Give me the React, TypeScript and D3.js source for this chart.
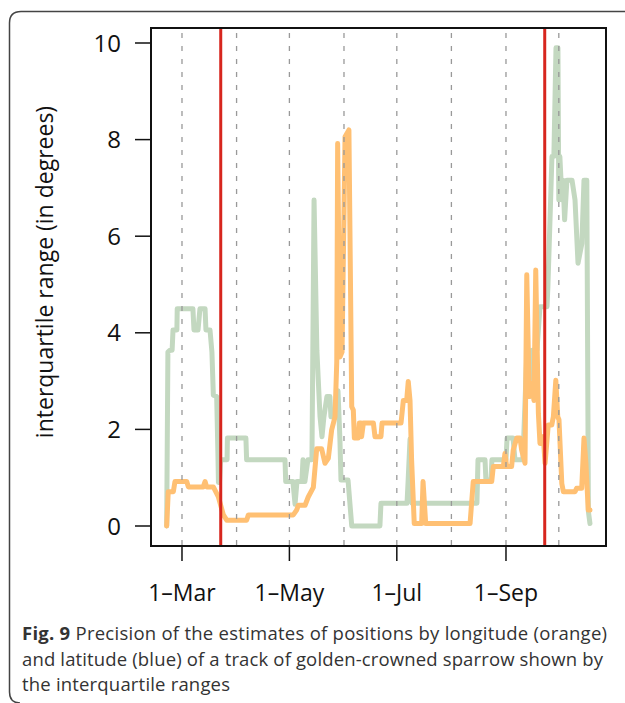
import React from 'react';
import * as d3 from 'd3';

const W = 625;
const H = 703;
const box = { left: 151, right: 606, top: 28, bottom: 546 };

// days after 1 March, interquartile range
const latDays = [-8.7, -8, -6.8, -5.6, -5.1, -2.9, -2.7, 6.2, 6.8, 9.1, 10.2, 13.1, 13.6, 15.9, 17, 17.8, 19.7, 20.4, 20.7, 21.3, 21.9, 25.6, 25.8, 36.3, 36.7, 58.5, 58.9, 63, 64.2, 65.3, 68.1, 68.7, 69.8, 71.5, 73.8, 75, 76.6, 78.4, 79.5, 80.6, 82.3, 84, 84.6, 87.5, 88.6, 89.7, 90.3, 94.3, 96.4, 112.4, 113, 127.8, 128.4, 129.5, 130.6, 167.5, 168.1, 172.1, 172.6, 175.5, 176, 184, 184.6, 188, 189.1, 193.6, 195.9, 197.6, 198.8, 201.6, 203.3, 207.3, 207.8, 209, 210.1, 211.2, 212.4, 213.5, 214, 214.6, 215.8, 216.4, 217.3, 218.6, 221.5, 223.2, 224.9, 227.1, 228.3, 229.9, 230.8, 231.7];
const latIQR = [0, 3.6, 3.64, 3.64, 4.06, 4.06, 4.5, 4.5, 4.06, 4.06, 4.5, 4.5, 4.06, 4.06, 3.6, 2.71, 2.68, 1.5, 0.9, 0.9, 1.37, 1.37, 1.82, 1.82, 1.37, 1.37, 0.92, 0.92, 0.45, 0.92, 0.92, 1.37, 0.92, 1.37, 1.37, 6.75, 3.64, 2.26, 1.85, 2.26, 2.68, 2.68, 2.26, 2.26, 2.8, 1.78, 0.95, 0.95, 0, 0, 0.47, 0.47, 0.92, 1.8, 0.47, 0.47, 1.37, 1.37, 0.95, 0.95, 1.37, 1.37, 1.82, 1.82, 1.37, 1.37, 3.64, 2.68, 3.64, 3.64, 4.54, 4.54, 4.95, 6.34, 7.65, 7.65, 9.9, 9.9, 6.75, 7.65, 6.75, 7.16, 6.34, 7.16, 7.16, 6.75, 5.44, 5.85, 7.16, 7.16, 0.3, 0.05];

const lonDays = [-8.7, -7.8, -4.9, -4, 2.7, 3.6, 12.1, 13.1, 14, 17.8, 20.6, 23.5, 25.4, 36.7, 37.7, 63.2, 65.1, 66.1, 69.9, 71.7, 74.6, 76.5, 79.3, 81.2, 83.1, 85, 86.9, 87.9, 88.4, 89.7, 90.9, 92.6, 94.8, 96.4, 97.3, 97.9, 100.1, 100.7, 101.7, 102, 103, 108.7, 109.6, 113, 113.6, 124.4, 125.7, 127.6, 128.5, 129.5, 130.4, 131.9, 136.1, 136.9, 138.4, 163.6, 165.4, 175.9, 176.8, 182.5, 183.4, 184.4, 187.2, 188.1, 190.1, 192, 192.9, 194.8, 195.8, 197.2, 198.6, 199.9, 200.9, 202.4, 203.3, 204.3, 205.2, 206.2, 208, 210, 210.9, 212.3, 213.4, 214.1, 215.7, 216.6, 223.2, 224.1, 227, 228.3, 229.4, 230.7, 231.7];
const lonIQR = [0, 0.71, 0.71, 0.92, 0.92, 0.81, 0.81, 0.92, 0.81, 0.81, 0.61, 0.23, 0.12, 0.12, 0.23, 0.23, 0.33, 0.43, 0.43, 0.6, 0.8, 1.6, 1.6, 1.3, 1.4, 1.99, 2.26, 3.4, 7.92, 3.5, 3.6, 8.06, 8.2, 2.47, 2.4, 1.82, 1.82, 2.13, 2.13, 1.85, 2.13, 2.13, 1.85, 1.85, 2.13, 2.13, 2.6, 2.6, 2.99, 2.6, 1.37, 0.05, 0.05, 0.92, 0.05, 0.05, 0.92, 0.92, 1.23, 1.23, 1.5, 1.23, 1.23, 1.57, 1.82, 1.82, 1.57, 1.3, 5.2, 2.68, 2.95, 2.6, 5.3, 2.33, 1.71, 1.71, 1.85, 1.3, 2.09, 2.09, 2.26, 3.02, 2.26, 2.2, 0.88, 0.71, 0.71, 0.78, 0.78, 1.82, 1.3, 0.33, 0.33];

const monthLines = ['2010-03-01', '2010-04-01', '2010-05-01', '2010-06-01', '2010-07-01', '2010-08-01', '2010-09-01', '2010-10-01'];
const equinoxLines = ['2010-03-23', '2010-09-23'];
const xTickDates = ['2010-03-01', '2010-05-01', '2010-07-01', '2010-09-01'];
const xTickLabels = ['1\u2013Mar', '1\u2013May', '1\u2013Jul', '1\u2013Sep'];
const yTicks = [0, 2, 4, 6, 8, 10];

const base = new Date(2010, 2, 1);
const toDate = (t: number) => new Date(base.getTime() + t * 864e5);
const parse = (s: string) => {
  const [y, m, d] = s.split('-').map(Number);
  return new Date(y, m - 1, d);
};

const x = d3
  .scaleTime()
  .domain([toDate(-17.6), toDate(240.8)])
  .range([box.left, box.right]);
const y = d3.scaleLinear().domain([0, 10]).range([526, 43]);

const line = d3
  .line<[number, number]>()
  .x(d => x(toDate(d[0])))
  .y(d => y(d[1]));

const lat = latDays.map((t, i) => [t, latIQR[i]] as [number, number]);
const lon = lonDays.map((t, i) => [t, lonIQR[i]] as [number, number]);

const font = '"Open Sans", "Noto Sans", sans-serif';

export default function App() {
  return (
    <svg
      width={W}
      height={H}
      style={{ position: 'absolute', left: 0, top: 0, background: '#fff' }}
      fontFamily={font}
    >
      <path
        d={`M${W},11.5 H21 Q9.5,11.5 9.5,23 V692 Q9.5,703 20,703`}
        fill="none"
        stroke="#444"
        strokeWidth={1.5}
      />
      <path d={line(lat) || ''} fill="none" stroke="#c3d8c0" strokeWidth={5} strokeLinejoin="round" strokeLinecap="round" />
      <path d={line(lon) || ''} fill="none" stroke="#ffc073" strokeWidth={5} strokeLinejoin="round" strokeLinecap="round" />
      {monthLines.map(s => (
        <line
          key={s}
          x1={x(parse(s))}
          x2={x(parse(s))}
          y1={33}
          y2={box.bottom}
          stroke="#999"
          strokeWidth={1.3}
          strokeDasharray="5,8"
        />
      ))}
      {equinoxLines.map(s => (
        <line key={s} x1={x(parse(s))} x2={x(parse(s))} y1={box.top} y2={box.bottom} stroke="#d7261e" strokeWidth={3} />
      ))}
      <rect
        x={box.left}
        y={box.top}
        width={box.right - box.left}
        height={box.bottom - box.top}
        fill="none"
        stroke="#111"
        strokeWidth={2}
      />
      {yTicks.map(v => (
        <g key={v}>
          <line x1={135} x2={box.left} y1={y(v)} y2={y(v)} stroke="#111" strokeWidth={1.5} />
          <text x={121} y={y(v)} dy="0.36em" textAnchor="end" fontSize={24} fill="#111">
            {v}
          </text>
        </g>
      ))}
      {xTickDates.map((s, i) => (
        <g key={s}>
          <line x1={x(parse(s))} x2={x(parse(s))} y1={box.bottom} y2={561} stroke="#111" strokeWidth={1.5} />
          <text x={x(parse(s))} y={601} textAnchor="middle" fontSize={23} fill="#111">
            {xTickLabels[i]}
          </text>
        </g>
      ))}
      <text
        transform={`translate(53, 272) rotate(-90)`}
        textAnchor="middle"
        fontSize={23}
        fill="#111"
      >
        interquartile range (in degrees)
      </text>
      <g fontSize={18.5} fill="#333">
        <text x={22} y={640} textLength={585} lengthAdjust="spacing">
          <tspan fontWeight="bold">Fig. 9</tspan> Precision of the estimates of positions by longitude (orange)
        </text>
        <text x={22} y={666} textLength={581} lengthAdjust="spacing">
          and latitude (blue) of a track of golden-crowned sparrow shown by
        </text>
        <text x={22} y={691} textLength={208} lengthAdjust="spacing">
          the interquartile ranges
        </text>
      </g>
    </svg>
  );
}
